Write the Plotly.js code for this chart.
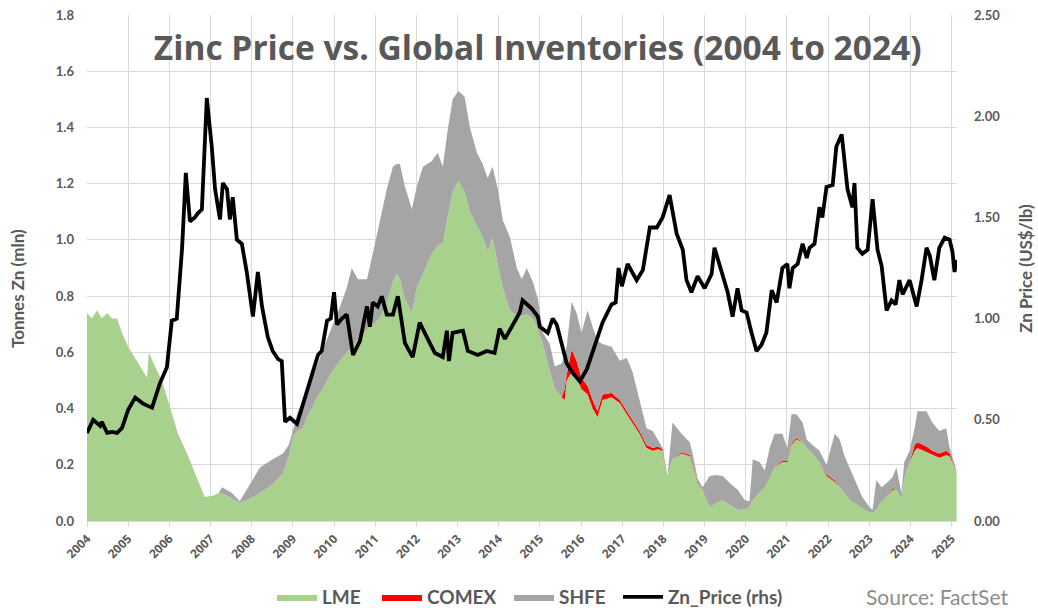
<!DOCTYPE html>
<html>
<head>
<meta charset="utf-8">
<script src="https://cdn.plot.ly/plotly-3.0.1.min.js"></script>
<style>html,body{margin:0;padding:0;background:#fff;}#chart{width:1038px;height:608px;}</style>
</head>
<body>
<div id="chart"></div>
<script>
// ---- Inventory data (million tonnes Zn), shared dates (decimal years) ----
const invYears = [
 2004.00,2004.12,2004.24,2004.36,2004.49,2004.61,2004.73,2004.85,2005.00,2005.17,
 2005.33,2005.46,2005.50,2005.65,2005.82,2006.01,2006.21,2006.43,2006.62,2006.86,
 2007.06,2007.20,2007.28,2007.52,2007.71,2007.96,2008.20,2008.51,2008.76,2008.90,
 2009.00,2009.10,2009.24,2009.34,2009.49,2009.58,2009.73,2009.90,2010.14,2010.31,
 2010.43,2010.58,2010.80,2010.94,2011.11,2011.28,2011.43,2011.52,2011.60,2011.72,
 2011.89,2012.01,2012.16,2012.37,2012.52,2012.64,2012.76,2012.88,2013.02,2013.17,
 2013.30,2013.47,2013.61,2013.73,2013.85,2013.98,2014.10,2014.27,2014.44,2014.56,
 2014.68,2014.83,2014.95,2015.07,2015.24,2015.36,2015.53,2015.60,2015.65,2015.77,
 2015.89,2016.01,2016.16,2016.28,2016.40,2016.52,2016.74,2016.94,2017.11,2017.25,
 2017.42,2017.59,2017.74,2017.86,2017.98,2018.10,2018.22,2018.44,2018.64,2018.71,
 2018.83,2018.95,2019.12,2019.29,2019.44,2019.61,2019.81,2019.97,2020.09,2020.17,
 2020.33,2020.46,2020.58,2020.70,2020.89,2021.01,2021.11,2021.23,2021.38,2021.48,
 2021.62,2021.79,2021.96,2022.16,2022.28,2022.40,2022.52,2022.69,2022.83,2023.00,
 2023.08,2023.17,2023.30,2023.42,2023.56,2023.66,2023.78,2023.85,2023.98,2024.10,
 2024.17,2024.39,2024.53,2024.70,2024.87,2024.95,2025.02,2025.12
];
const lme = [
 0.74,0.72,0.75,0.72,0.74,0.72,0.72,0.67,0.62,0.58,
 0.54,0.51,0.60,0.55,0.50,0.41,0.31,0.24,0.17,0.085,
 0.09,0.10,0.10,0.08,0.065,0.08,0.10,0.13,0.17,0.23,
 0.30,0.32,0.33,0.37,0.41,0.44,0.47,0.52,0.57,0.60,
 0.62,0.645,0.68,0.70,0.72,0.78,0.85,0.88,0.86,0.79,
 0.74,0.83,0.88,0.95,0.98,0.99,1.08,1.17,1.21,1.17,
 1.10,1.05,1.01,0.96,1.01,0.91,0.83,0.75,0.73,0.73,
 0.735,0.72,0.68,0.63,0.54,0.47,0.44,0.43,0.50,0.53,
 0.51,0.47,0.45,0.40,0.37,0.43,0.44,0.42,0.38,0.35,
 0.31,0.26,0.25,0.255,0.25,0.16,0.22,0.24,0.23,0.20,
 0.135,0.11,0.05,0.064,0.075,0.057,0.04,0.04,0.05,0.075,
 0.10,0.12,0.15,0.19,0.21,0.21,0.27,0.29,0.28,0.26,
 0.24,0.21,0.16,0.14,0.12,0.10,0.075,0.06,0.045,0.03,
 0.03,0.04,0.07,0.085,0.11,0.11,0.08,0.15,0.21,0.25,
 0.26,0.245,0.235,0.225,0.235,0.23,0.21,0.18
];
const comex = [
 0,0,0,0,0,0,0,0,0,0,
 0,0,0,0,0,0,0,0,0,0,
 0,0,0,0,0,0,0,0,0,0,
 0,0,0,0,0,0,0,0,0,0,
 0,0,0,0,0,0,0,0,0,0,
 0,0,0,0,0,0,0,0,0,0,
 0,0,0,0,0,0,0,0,0,0,
 0,0,0,0,0,0,0,0.04,0.02,0.08,
 0.06,0.04,0.03,0.03,0.02,0.02,0.015,0.01,0.01,0.01,
 0.01,0.01,0.01,0.01,0.005,0,0,0.005,0.005,0.005,
 0.005,0,0,0,0,0,0,0,0,0,
 0,0,0,0,0.005,0.005,0.005,0.005,0,0,
 0,0,0.005,0.005,0,0,0,0,0,0,
 0,0,0,0,0.005,0,0,0,0,0.02,
 0.02,0.02,0.015,0.015,0.015,0.01,0.005,0
];
const shfe = [
 0,0,0,0,0,0,0,0,0,0,
 0,0,0,0,0,0,0,0,0,0,
 0,0,0.02,0.02,0.005,0.05,0.09,0.09,0.07,0.04,
 0.02,0.06,0.10,0.09,0.11,0.11,0.14,0.15,0.19,0.23,
 0.28,0.215,0.18,0.25,0.34,0.40,0.41,0.39,0.41,0.40,
 0.37,0.36,0.38,0.33,0.33,0.27,0.31,0.33,0.32,0.34,
 0.30,0.26,0.26,0.26,0.25,0.27,0.24,0.26,0.17,0.13,
 0.165,0.13,0.11,0.04,0.09,0.08,0.12,0.13,0.10,0.17,
 0.17,0.16,0.27,0.26,0.25,0.18,0.165,0.14,0.19,0.17,
 0.11,0.06,0.06,0.025,0.005,0,0.13,0.065,0.045,0.035,
 0.01,0.01,0.11,0.10,0.085,0.078,0.07,0.035,0.02,0.145,
 0.11,0.06,0.11,0.12,0.095,0.045,0.105,0.085,0.07,0.03,
 0.03,0.04,0.035,0.165,0.17,0.13,0.115,0.075,0.04,0.02,
 0.01,0.105,0.05,0.05,0.04,0.08,0.02,0.06,0.04,0.06,
 0.11,0.125,0.10,0.08,0.08,0.02,0.015,0
];

// ---- Zinc price (US$/lb), decimal years ----
const priceYears = [
 2004.00,2004.15,2004.32,2004.36,2004.49,2004.61,2004.73,2004.85,2005.00,2005.17,
 2005.36,2005.58,2005.77,2005.94,2006.06,2006.18,2006.31,2006.40,2006.50,2006.62,
 2006.69,2006.79,2006.91,2007.03,2007.11,2007.23,2007.30,2007.40,2007.47,2007.54,
 2007.64,2007.76,2007.88,2008.03,2008.15,2008.25,2008.39,2008.51,2008.64,2008.73,
 2008.81,2008.93,2009.10,2009.22,2009.41,2009.61,2009.70,2009.83,2009.92,2010.00,
 2010.07,2010.19,2010.31,2010.46,2010.63,2010.80,2010.87,2010.94,2011.06,2011.16,
 2011.28,2011.43,2011.55,2011.72,2011.91,2012.08,2012.25,2012.45,2012.64,2012.74,
 2012.79,2012.88,2013.13,2013.25,2013.49,2013.71,2013.90,2014.02,2014.15,2014.32,
 2014.51,2014.58,2014.80,2014.95,2015.00,2015.19,2015.31,2015.41,2015.65,2015.80,
 2015.97,2016.14,2016.33,2016.52,2016.74,2016.84,2016.91,2016.99,2017.13,2017.35,
 2017.50,2017.67,2017.84,2017.98,2018.15,2018.32,2018.47,2018.56,2018.68,2018.83,
 2019.00,2019.17,2019.24,2019.44,2019.56,2019.68,2019.80,2019.90,2020.02,2020.14,
 2020.26,2020.38,2020.50,2020.63,2020.75,2020.89,2021.01,2021.06,2021.14,2021.26,
 2021.38,2021.48,2021.55,2021.67,2021.79,2021.86,2021.96,2022.11,2022.20,2022.33,
 2022.40,2022.47,2022.59,2022.64,2022.71,2022.83,2022.96,2023.08,2023.20,2023.30,
 2023.42,2023.54,2023.64,2023.73,2023.81,2023.98,2024.15,2024.27,2024.39,2024.47,
 2024.58,2024.70,2024.83,2024.95,2025.02,2025.07,2025.12
];
const znPrice = [
 0.435,0.50,0.47,0.49,0.435,0.44,0.435,0.46,0.55,0.61,
 0.58,0.56,0.68,0.76,0.99,1.00,1.35,1.72,1.48,1.50,
 1.52,1.54,2.09,1.85,1.64,1.49,1.67,1.64,1.49,1.60,
 1.39,1.37,1.23,1.01,1.23,1.06,0.91,0.84,0.80,0.79,
 0.49,0.51,0.48,0.56,0.69,0.82,0.84,0.99,1.00,1.13,
 0.97,1.00,1.02,0.82,0.89,1.06,0.96,1.08,1.06,1.11,
 1.02,1.02,1.11,0.88,0.81,0.98,0.91,0.83,0.81,0.94,
 0.79,0.93,0.94,0.84,0.82,0.84,0.83,0.95,0.90,0.96,
 1.03,1.09,1.05,1.01,0.96,0.93,1.00,0.97,0.78,0.73,
 0.69,0.75,0.86,0.98,1.07,1.08,1.25,1.16,1.27,1.19,
 1.24,1.45,1.45,1.50,1.61,1.42,1.34,1.19,1.13,1.21,
 1.15,1.22,1.35,1.21,1.13,1.01,1.15,1.04,1.03,0.93,
 0.84,0.87,0.93,1.14,1.08,1.25,1.27,1.15,1.25,1.27,
 1.37,1.30,1.35,1.37,1.55,1.50,1.65,1.66,1.85,1.91,
 1.79,1.64,1.55,1.67,1.35,1.32,1.34,1.59,1.34,1.26,
 1.04,1.09,1.07,1.19,1.12,1.19,1.06,1.19,1.35,1.31,
 1.19,1.35,1.40,1.39,1.33,1.23,1.29
];

const yearTicks = [2004,2005,2006,2007,2008,2009,2010,2011,2012,2013,2014,2015,2016,2017,2018,2019,2020,2021,2022,2023,2024,2025];
const tickLabels = ['2004','2005','2006','2007','2008','2009','2010','2011','2012','2013','2014',
                    '2015','2016','2017','2018','2019','2020','2021','2022','2023','2024','2025'];

const txt = '#595959';
const fontFam = 'Lato, "Open Sans", sans-serif';

const traces = [
  {x: invYears, y: lme, name: 'LME', type: 'scatter', mode: 'lines', stackgroup: 'inv', legend: 'legend',
   line: {width: 0, color: '#a9d18e'}, fillcolor: '#a9d18e', hoverinfo: 'skip'},
  {x: invYears, y: comex, name: 'COMEX', type: 'scatter', mode: 'lines', stackgroup: 'inv', legend: 'legend2',
   line: {width: 0, color: '#ff0000'}, fillcolor: '#ff0000', hoverinfo: 'skip'},
  {x: invYears, y: shfe, name: 'SHFE', type: 'scatter', mode: 'lines', stackgroup: 'inv', legend: 'legend3',
   line: {width: 0, color: '#a5a5a5'}, fillcolor: '#a5a5a5', hoverinfo: 'skip'},
  {x: priceYears, y: znPrice, name: 'Zn_Price (rhs)', type: 'scatter', mode: 'lines', yaxis: 'y2', legend: 'legend4',
   line: {width: 3.8, color: '#000000'}, hoverinfo: 'skip'}
];

function legendAt(xc) {
  return {orientation: 'h', xref: 'container', yref: 'container', x: xc, xanchor: 'left',
    y: 0.018, yanchor: 'middle', itemwidth: 40, bgcolor: 'rgba(0,0,0,0)',
    font: {family: fontFam, size: 19, color: txt, weight: 'bold'}};
}

const layout = {
  width: 1038, height: 608,
  margin: {l: 87, r: 81, t: 15, b: 87},
  paper_bgcolor: '#ffffff', plot_bgcolor: '#ffffff',
  font: {family: fontFam, color: txt},
  showlegend: true,
  title: {text: '<b>Zinc Price vs. Global Inventories (2004 to 2024)</b>',
    font: {family: '"Open Sans", sans-serif', size: 33.5, color: txt},
    x: 0.518, xref: 'container', xanchor: 'center', y: 0.921, yref: 'container', yanchor: 'middle'},
  xaxis: {range: [2004, 2025.13], tickmode: 'array', tickvals: yearTicks, ticktext: tickLabels,
    tickangle: -45, automargin: false,
    tickfont: {family: '"Open Sans", sans-serif', size: 12, color: txt, weight: 'bold'},
    showgrid: true, gridcolor: '#d9d9d9', gridwidth: 1,
    showline: true, linecolor: '#d9d9d9', ticks: 'outside', ticklen: 5, tickcolor: '#d9d9d9',
    zeroline: false},
  yaxis: {range: [0, 1.8], dtick: 0.2, tick0: 0, tickformat: '.1f', automargin: false,
    tickfont: {family: fontFam, size: 13, color: txt, weight: 'bold'},
    showgrid: true, gridcolor: '#d9d9d9', gridwidth: 1, zeroline: false,
    ticklabelstandoff: 12},
  yaxis2: {range: [0, 2.5], dtick: 0.5, tick0: 0, tickformat: '.2f', overlaying: 'y', side: 'right',
    automargin: false,
    tickfont: {family: fontFam, size: 13, color: txt, weight: 'bold'},
    showgrid: false, zeroline: false, ticklabelstandoff: 16},
  legend: legendAt(0.262),
  legend2: legendAt(0.3632),
  legend3: legendAt(0.4904),
  legend4: legendAt(0.5954),
  annotations: [
    {text: 'Source: FactSet', xref: 'paper', yref: 'paper', x: 1.061, y: -0.150,
     xanchor: 'right', yanchor: 'middle', showarrow: false,
     font: {family: fontFam, size: 21, color: '#8c8c8c'}},
    {text: '<b>Tonnes Zn (mln)</b>', xref: 'paper', yref: 'paper', x: -0.0793, y: 0.4585,
     xanchor: 'center', yanchor: 'middle', textangle: -90, showarrow: false,
     font: {family: fontFam, size: 17, color: txt}},
    {text: '<b>Zn Price (US$/lb)</b>', xref: 'paper', yref: 'paper', x: 1.078, y: 0.5,
     xanchor: 'center', yanchor: 'middle', textangle: -90, showarrow: false,
     font: {family: fontFam, size: 17, color: txt}}
  ]
};

Plotly.newPlot('chart', traces, layout, {displayModeBar: false, staticPlot: true});
</script>
</body>
</html>
